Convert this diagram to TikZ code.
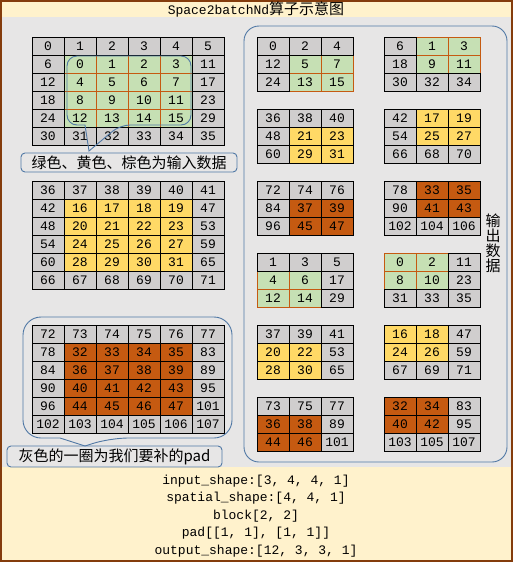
\documentclass[tikz,border=0pt]{standalone}
\usepackage{fontspec}
\setmonofont{Liberation Mono}
\newfontfamily\cjk{Noto Sans CJK SC}
\usepackage{xcolor}
\usepackage{tikz}
\definecolor{cband}{RGB}{255,242,204}
\definecolor{cbg}{RGB}{231,230,230}
\definecolor{cframe}{RGB}{132,60,12}
\definecolor{cpad}{RGB}{208,206,206}
\definecolor{cgreen}{RGB}{198,224,180}
\definecolor{cyellow}{RGB}{255,217,102}
\definecolor{cbrown}{RGB}{197,90,17}
\definecolor{cnote}{RGB}{80,120,165}

\begin{document}
\begin{tikzpicture}[
  x=1pt, y=-1pt,
  cell/.style={minimum width=32pt, minimum height=18pt, inner sep=0pt, line width=0.8pt, font=\ttfamily\fontsize{13}{13}\selectfont},
  padcell/.style={cell, draw=black, fill=cpad},
  note/.style={draw=cnote, line width=0.9pt, rounded corners=4pt, inner sep=0pt, font=\cjk\fontsize{15}{15}\selectfont},
  callout/.style={draw=cnote, line width=0.9pt}
]
\useasboundingbox (0,0) rectangle (513,562);
\fill[cband] (0,0) rectangle (513,562);
\fill[cbg] (0,17) rectangle (513,467);
\draw[cframe, line width=2pt] (1,1) rectangle (512,561);
\node (title) at (256,9) {\ttfamily\fontsize{13}{13}\selectfont Space2batchNd{\cjk\fontsize{15}{15}\selectfont 算子示意图}};

% input: 3 batches, padded 6x6
\foreach \bb/\cfill/\cline in {0/cgreen/cbrown, 1/cyellow/black, 2/cbrown/black} {
  \foreach \rr in {1,...,4} {
    \foreach \cc in {1,...,4} {
      \pgfmathtruncatemacro\val{16*\bb+4*(\rr-1)+\cc-1}
      \node[cell, fill=\cfill, draw=\cline] (in\bb-\rr-\cc) at (48+32*\cc, 46+144*\bb+18*\rr) {\val};
    }
  }
  \foreach \rr in {0,...,5} {
    \foreach \cc in {0,...,5} {
      \pgfmathtruncatemacro\ring{(\rr==0)||(\rr==5)||(\cc==0)||(\cc==5)}
      \ifnum\ring=1
        \pgfmathtruncatemacro\val{36*\bb+6*\rr+\cc}
        \node[padcell] (in\bb-\rr-\cc) at (48+32*\cc, 46+144*\bb+18*\rr) {\val};
      \fi
    }
  }
}

% output: 12 blocks of 3x3
\foreach \kk in {0,...,5} {
  \pgfmathtruncatemacro\bb{mod(\kk,3)}
  \pgfmathtruncatemacro\jj{\kk>2}
  \ifcase\bb \def\cfill{cgreen}\def\cline{cbrown}\or \def\cfill{cyellow}\def\cline{black}\or \def\cfill{cbrown}\def\cline{black}\fi
  \foreach \ii in {0,1} {
    \foreach \rr in {0,1,2} {
      \foreach \cc in {0,1,2} {
        \pgfmathtruncatemacro\pr{2*\rr+\ii}
        \pgfmathtruncatemacro\pc{2*\cc+\jj}
        \pgfmathtruncatemacro\inner{(\pr>0)&&(\pr<5)&&(\pc>0)&&(\pc<5)}
        \ifnum\inner=1
          \pgfmathtruncatemacro\val{16*\bb+4*(\pr-1)+\pc-1}
          \node[cell, fill=\cfill, draw=\cline] (out\kk\ii-\rr-\cc) at (273+127*\ii+32*\cc, 46+72*\kk+18*\rr) {\val};
        \fi
      }
    }
    \foreach \rr in {0,1,2} {
      \foreach \cc in {0,1,2} {
        \pgfmathtruncatemacro\pr{2*\rr+\ii}
        \pgfmathtruncatemacro\pc{2*\cc+\jj}
        \pgfmathtruncatemacro\inner{(\pr>0)&&(\pr<5)&&(\pc>0)&&(\pc<5)}
        \ifnum\inner=0
          \pgfmathtruncatemacro\val{36*\bb+6*\pr+\pc}
          \node[padcell] (out\kk\ii-\rr-\cc) at (273+127*\ii+32*\cc, 46+72*\kk+18*\rr) {\val};
        \fi
      }
    }
  }
}

\node[callout, rounded corners=15pt, minimum width=263pt, minimum height=436pt] (outbox) at (375.5,244) {};
\node[font=\cjk\fontsize{15}{15}\selectfont, align=center, inner sep=0pt] (outlabel) at (493,243) {输\\出\\数\\据};

% callouts
\draw[callout] (120,56) [rounded corners=10pt] -- (191,56) -- (191,125) -- (120,125) [sharp corners] -- (89,151) -- (85,125) [rounded corners=10pt] -- (67,125) -- (67,56) -- cycle;
\node[note, minimum width=216pt, minimum height=19pt] (notein) at (129,162.5) {绿色、黄色、棕色为输入数据};

\draw[callout] (128,317) [rounded corners=18pt] -- (232,317) -- (232,438) -- (110,438) [sharp corners] -- (85,446) -- (60,438) [rounded corners=18pt] -- (23,438) -- (23,317) -- cycle;
\node[note, minimum width=215pt, minimum height=21pt] (notepad) at (114.5,456.5) {灰色的一圈为我们要补的pad};

\node[font=\ttfamily\fontsize{13}{17.5}\selectfont, align=center] (shapes) at (256,516) {input\_shape:[3, 4, 4, 1]\\spatial\_shape:[4, 4, 1]\\block[2, 2]\\pad[[1, 1], [1, 1]]\\output\_shape:[12, 3, 3, 1]};
\end{tikzpicture}
\end{document}
